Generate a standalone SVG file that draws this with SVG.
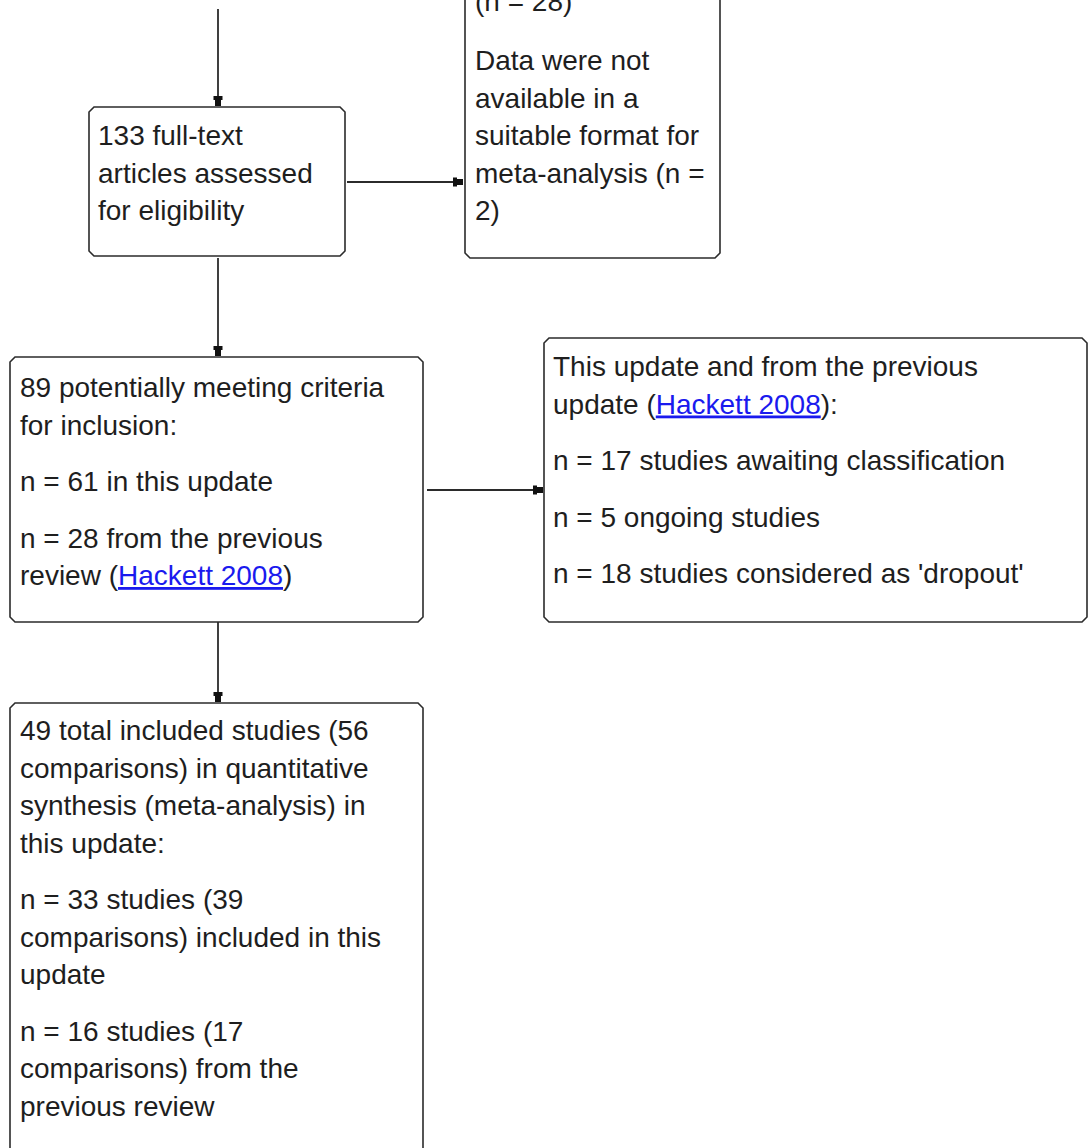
<svg xmlns="http://www.w3.org/2000/svg" width="1088" height="1148" viewBox="0 0 1088 1148">
<style>
.box{fill:#fff;stroke:#2b2b2b;stroke-width:1.6}
.t{font-family:"Liberation Sans",Arial,sans-serif;font-size:28px;fill:#1e1e1e}
.lk{fill:#1a1aee;text-decoration:underline}
.c{stroke:#2b2b2b;stroke-width:1.8;fill:none}
</style>
<defs>
<marker id="ah" markerUnits="userSpaceOnUse" markerWidth="12" markerHeight="12" viewBox="-11 -6 12 12" refX="0" refY="0" orient="auto">
<path d="M-10,-4.5 L-6,-4.5 L-6,-3 L0,-3 L0,3 L-6,3 L-6,4.5 L-10,4.5 Z" fill="#111"/>
</marker>
</defs>
<rect width="1088" height="1148" fill="#fff"/>
<g id="connectors">
<line class="c" x1="218" y1="9" x2="218" y2="106" marker-end="url(#ah)"/>
<line class="c" x1="347" y1="182" x2="463" y2="182" marker-end="url(#ah)"/>
<line class="c" x1="218" y1="258" x2="218" y2="356" marker-end="url(#ah)"/>
<line class="c" x1="427" y1="490" x2="543" y2="490" marker-end="url(#ah)"/>
<line class="c" x1="218" y1="622" x2="218" y2="702" marker-end="url(#ah)"/>
</g>
<g id="node-fulltext">
<path class="box" d="M94,107 H340 L345,112 V251 L340,256 H94 L89,251 V112 Z"/>
<text class="t" x="98" y="145">133 full-text</text>
<text class="t" x="98" y="182.5">articles assessed</text>
<text class="t" x="98" y="220">for eligibility</text>
</g>
<g id="node-excluded">
<path class="box" d="M465,-60 H720 V253 L715,258 H470 L465,253 Z"/>
<text class="t" x="475" y="11">(n = 28)</text>
<text class="t" x="475" y="70">Data were not</text>
<text class="t" x="475" y="107.5">available in a</text>
<text class="t" x="475" y="145">suitable format for</text>
<text class="t" x="475" y="182.5">meta-analysis (n =</text>
<text class="t" x="475" y="220">2)</text>
</g>
<g id="node-potential">
<path class="box" d="M15,357 H418 L423,362 V617 L418,622 H15 L10,617 V362 Z"/>
<text class="t" x="20" y="397">89 potentially meeting criteria</text>
<text class="t" x="20" y="434.5">for inclusion:</text>
<text class="t" x="20" y="491">n = 61 in this update</text>
<text class="t" x="20" y="547.5">n = 28 from the previous</text>
<text class="t" x="20" y="585">review (<tspan class="lk">Hackett 2008</tspan>)</text>
</g>
<g id="node-awaiting">
<path class="box" d="M549,338 H1082 L1087,343 V617 L1082,622 H549 L544,617 V343 Z"/>
<text class="t" x="553" y="376">This update and from the previous</text>
<text class="t" x="553" y="413.5">update (<tspan class="lk">Hackett 2008</tspan>):</text>
<text class="t" x="553" y="470">n = 17 studies awaiting classification</text>
<text class="t" x="553" y="526.5">n = 5 ongoing studies</text>
<text class="t" x="553" y="583">n = 18 studies considered as 'dropout'</text>
</g>
<g id="node-included">
<path class="box" d="M15,703 H418 L423,708 V1200 H10 V708 Z"/>
<text class="t" x="20" y="740">49 total included studies (56</text>
<text class="t" x="20" y="777.5">comparisons) in quantitative</text>
<text class="t" x="20" y="815">synthesis (meta-analysis) in</text>
<text class="t" x="20" y="852.5">this update:</text>
<text class="t" x="20" y="909">n = 33 studies (39</text>
<text class="t" x="20" y="946.5">comparisons) included in this</text>
<text class="t" x="20" y="984">update</text>
<text class="t" x="20" y="1040.5">n = 16 studies (17</text>
<text class="t" x="20" y="1078">comparisons) from the</text>
<text class="t" x="20" y="1115.5">previous review</text>
</g>
</svg>
